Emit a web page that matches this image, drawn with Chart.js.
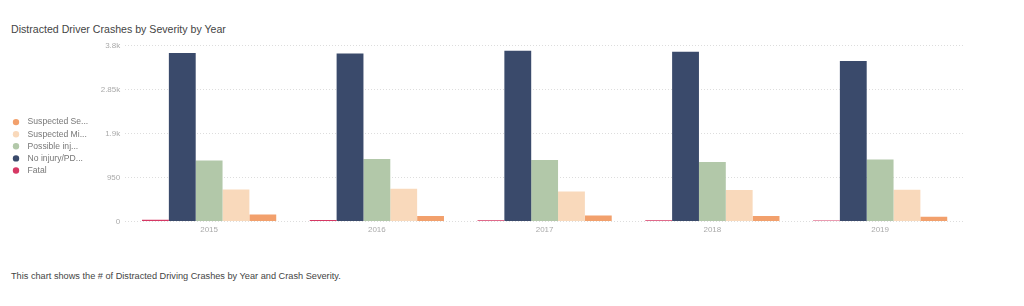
<!DOCTYPE html>
<html>
<head>
<meta charset="utf-8">
<script src="https://cdn.jsdelivr.net/npm/chart.js@4/dist/chart.umd.min.js"></script>
<style>
  body { margin: 0; background: #fff; font-family: "Liberation Sans", Arial, sans-serif; }
  #title { position: absolute; left: 11px; top: 23px; font-size: 10.6px; color: #444; }
  #box { position: absolute; left: 0; top: 36px; width: 1024px; height: 212px; }
  #note { position: absolute; left: 11px; top: 271px; font-size: 9.2px; color: #444; }
</style>
</head>
<body>
<div id="title">Distracted Driver Crashes by Severity by Year</div>
<div id="box"><canvas id="chart"></canvas></div>
<div id="note">This chart shows the # of Distracted Driving Crashes by Year and Crash Severity.</div>
<script>
const years = ['2015', '2016', '2017', '2018', '2019'];
const fatal = [36, 29, 25, 25, 18];
const noInjury = [3642, 3634, 3692, 3670, 3469];
const possible = [1317, 1353, 1331, 1288, 1339];
const suspectedMinor = [691, 705, 648, 677, 684];
const suspectedSerious = [151, 115, 130, 115, 101];
const yTicks = [0, 950, 1900, 2850, 3800];

const series = [
  { label: 'Fatal', data: fatal, color: '#d63864' },
  { label: 'No injury/PDO', data: noInjury, color: '#3a4a6b' },
  { label: 'Possible injury', data: possible, color: '#b2c8a9' },
  { label: 'Suspected Minor Injury', data: suspectedMinor, color: '#f9d9bb' },
  { label: 'Suspected Serious Injury', data: suspectedSerious, color: '#f2a06c' },
];

// legend names are cut like the original dashboard does
const shorten = s => '  ' + (s.length > 12 ? s.slice(0, 12) + '...' : s);

new Chart(document.getElementById('chart').getContext('2d'), {
  type: 'bar',
  data: {
    labels: years,
    datasets: series.map(s => ({
      label: s.label,
      data: s.data,
      backgroundColor: s.color,
      borderWidth: 0,
      categoryPercentage: 0.8,
      barPercentage: 1.0,
    })),
  },
  options: {
    responsive: true,
    maintainAspectRatio: false,
    animation: false,
    layout: { padding: { top: 2, left: 10, right: 60, bottom: 9 } },
    plugins: {
      title: { display: false },
      tooltip: { enabled: false },
      legend: {
        position: 'left',
        reverse: true,
        title: { display: true, text: ' ', padding: 3, font: { size: 8 } },
        labels: {
          usePointStyle: true,
          pointStyle: 'circle',
          boxWidth: 5,
          boxHeight: 4.5,
          padding: 3.5,
          color: '#777',
          font: { family: '"Liberation Sans", Arial, sans-serif', size: 8.6 },
          generateLabels: chart => Chart.defaults.plugins.legend.labels.generateLabels(chart)
            .map(l => Object.assign(l, { text: shorten(l.text) })),
        },
      },
    },
    scales: {
      x: {
        grid: { display: false, drawTicks: false },
        border: { display: false },
        ticks: { color: '#aaa', padding: 4, font: { size: 8 } },
      },
      y: {
        min: 0,
        max: 3800,
        afterBuildTicks: scale => { scale.ticks = yTicks.map(v => ({ value: v })); },
        afterFit: scale => { scale.width = 27; },
        border: { display: false, dash: [1, 2] },
        grid: { color: '#ddd', drawTicks: false },
        ticks: {
          color: '#aaa',
          padding: 5,
          font: { size: 8 },
          callback: v => v >= 1000 ? (v / 1000) + 'k' : v,
        },
      },
    },
  },
});
</script>
</body>
</html>
